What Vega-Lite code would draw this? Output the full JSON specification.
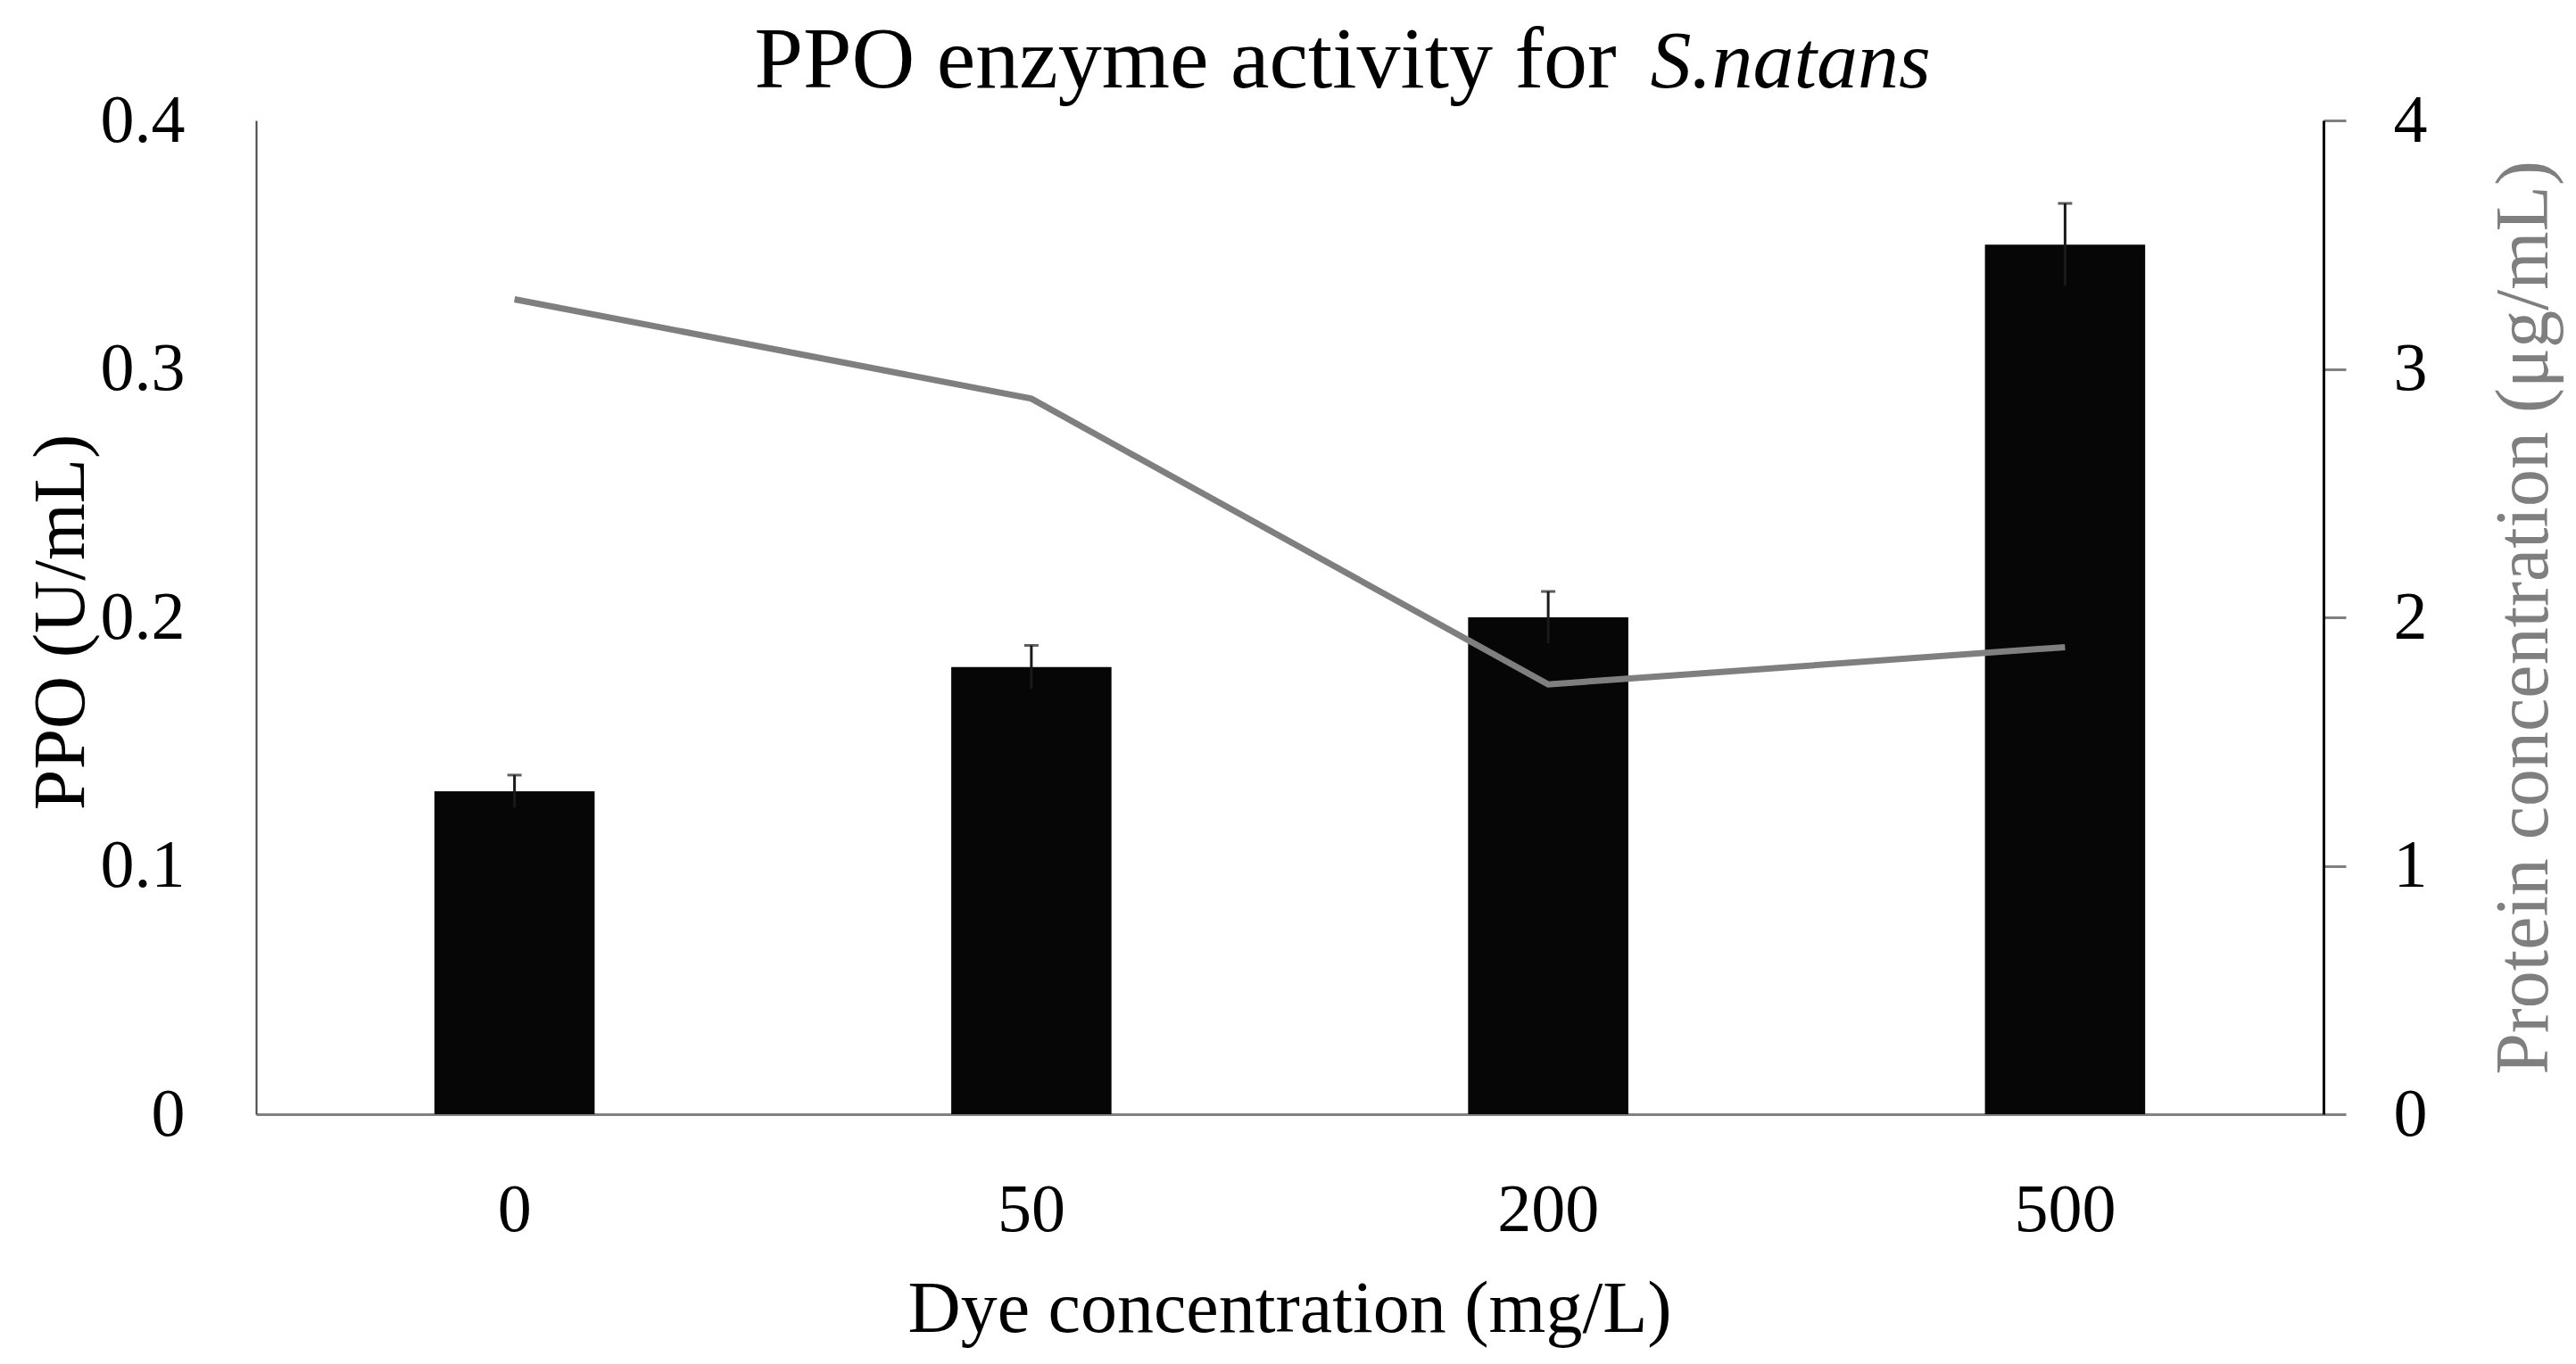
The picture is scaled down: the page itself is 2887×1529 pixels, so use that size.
{
  "$schema": "https://vega.github.io/schema/vega-lite/v6.json",
  "autosize": "none",
  "width": 2317,
  "height": 1114,
  "padding": {"left": 287, "top": 135, "right": 283, "bottom": 280},
  "background": "white",
  "config": {
    "font": "Liberation Serif",
    "view": {"stroke": null},
    "axis": {"grid": false, "labelColor": "black", "titleColor": "black", "titleFontWeight": "normal", "labelFont": "Liberation Serif", "titleFont": "Liberation Serif"}
  },
  "data": {
    "values": [
      {"dye": 0, "ppo": 0.130, "sd": 0.0065, "protein": 3.28},
      {"dye": 50, "ppo": 0.180, "sd": 0.0087, "protein": 2.88},
      {"dye": 200, "ppo": 0.200, "sd": 0.0104, "protein": 1.73},
      {"dye": 500, "ppo": 0.350, "sd": 0.0166, "protein": 1.88}
    ]
  },
  "transform": [
    {"calculate": "datum.ppo - datum.sd", "as": "lo"},
    {"calculate": "datum.ppo + datum.sd", "as": "hi"}
  ],
  "layer": [
    {
      "mark": {"type": "bar", "color": "#060606"},
      "encoding": {
        "x": {
          "field": "dye", "type": "ordinal",
          "scale": {"type": "band", "paddingInner": 0.69, "paddingOuter": 0.345},
          "axis": {
            "orient": "bottom", "labelAngle": 0, "ticks": false,
            "domainColor": "#808080", "domainWidth": 3,
            "labelFontSize": 76, "labelPadding": 70,
            "title": "Dye concentration (mg/L)", "titleFontSize": 82,
            "titleX": 1158, "titleY": 243, "titleAlign": "center", "titleBaseline": "alphabetic"
          }
        },
        "y": {
          "field": "ppo", "type": "quantitative",
          "scale": {"domain": [0, 0.4], "nice": false},
          "axis": {
            "orient": "left", "values": [0, 0.1, 0.2, 0.3, 0.4], "format": ".1~f",
            "ticks": false, "domainColor": "#404040", "domainWidth": 2,
            "labelFontSize": 76, "labelPadding": 80,
            "title": "PPO (U/mL)", "titleFontSize": 82, "titleAngle": 270,
            "titleX": -194, "titleY": 562, "titleAlign": "center", "titleBaseline": "alphabetic"
          }
        }
      }
    },
    {
      "mark": {"type": "rule", "color": "#1a1a1a", "strokeWidth": 3},
      "encoding": {
        "x": {"field": "dye", "type": "ordinal", "axis": null},
        "y": {"field": "lo", "type": "quantitative", "scale": {"domain": [0, 0.4], "nice": false}, "axis": null},
        "y2": {"field": "hi"}
      }
    },
    {
      "mark": {"type": "tick", "color": "#1a1a1a", "size": 16, "thickness": 3},
      "encoding": {
        "x": {
          "field": "dye", "type": "ordinal",
          "axis": {
            "orient": "top", "labels": false, "ticks": false, "domain": false,
            "title": "S.natans", "titleFontSize": 92, "titleFontStyle": "italic",
            "titleX": 1562, "titleY": -38, "titleAlign": "left", "titleBaseline": "alphabetic"
          }
        },
        "y": {"field": "hi", "type": "quantitative", "scale": {"domain": [0, 0.4], "nice": false}, "axis": null}
      }
    },
    {
      "mark": {"type": "line", "color": "#7f7f7f", "strokeWidth": 7},
      "encoding": {
        "x": {
          "field": "dye", "type": "ordinal",
          "axis": {
            "orient": "top", "labels": false, "ticks": false, "domain": false,
            "title": "PPO enzyme activity for", "titleFontSize": 98,
            "titleX": 558, "titleY": -38, "titleAlign": "left", "titleBaseline": "alphabetic"
          }
        },
        "y": {
          "field": "protein", "type": "quantitative",
          "scale": {"domain": [0, 4], "nice": false},
          "axis": {
            "orient": "right", "values": [0, 1, 2, 3, 4],
            "ticks": true, "tickSize": 25, "tickColor": "#808080", "tickWidth": 3,
            "domainColor": "black", "domainWidth": 3,
            "labelFontSize": 76, "labelPadding": 53,
            "title": "Protein concentration (μg/mL)", "titleColor": "#7f7f7f", "titleFontSize": 84,
            "titleAngle": 270, "titleX": 250, "titleY": 557, "titleAlign": "center", "titleBaseline": "alphabetic"
          }
        }
      }
    }
  ],
  "resolve": {"scale": {"y": "independent"}, "axis": {"x": "independent", "y": "independent"}}
}
